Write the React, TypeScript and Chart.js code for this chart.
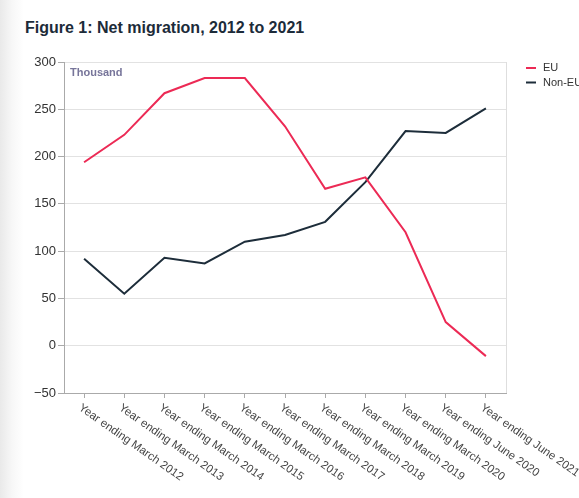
import React, { useEffect, useRef } from "react";
import { Chart, registerables } from "chart.js";

Chart.register(...registerables);

const categories = [
  "Year ending March 2012",
  "Year ending March 2013",
  "Year ending March 2014",
  "Year ending March 2015",
  "Year ending March 2016",
  "Year ending March 2017",
  "Year ending March 2018",
  "Year ending March 2019",
  "Year ending March 2020",
  "Year ending June 2020",
  "Year ending June 2021",
];
const euValues = [194, 223, 267, 283, 283, 232, 166, 178, 120, 25, -11];
const nonEuValues = [92, 55, 93, 87, 110, 117, 131, 173, 227, 225, 251];
const yMin = -50;
const yMax = 300;
const yStep = 50;
const seriesNames = ["EU", "Non-EU"];
const seriesColors = ["#ec2a55", "#1d2d3a"];
const unitLabel = "Thousand";
const titleText = "Figure 1: Net migration, 2012 to 2021";

const FONT = "'Liberation Sans', Arial, Helvetica, sans-serif";

const overlayPlugin = {
  id: "overlay",
  afterDraw(chart: any) {
    const ctx = chart.ctx;
    const area = chart.chartArea;
    const xScale = chart.scales.x;
    ctx.save();
    // right border
    ctx.strokeStyle = "#dedede";
    ctx.lineWidth = 1;
    ctx.beginPath();
    ctx.moveTo(Math.round(area.right) + 0.5, area.top);
    ctx.lineTo(Math.round(area.right) + 0.5, area.bottom);
    ctx.stroke();

    // unit label
    ctx.fillStyle = "#77759a";
    ctx.font = `bold 11px ${FONT}`;
    ctx.textAlign = "left";
    ctx.textBaseline = "middle";
    ctx.fillText(unitLabel, area.left + 6, area.top + 11);

    // rotated x labels
    ctx.fillStyle = "#444";
    ctx.font = `11.5px ${FONT}`;
    ctx.textAlign = "left";
    ctx.textBaseline = "top";
    categories.forEach((lab, i) => {
      const x = xScale.getPixelForValue(i);
      ctx.save();
      ctx.translate(x - 1, area.bottom + 9);
      ctx.rotate((35 * Math.PI) / 180);
      ctx.fillText(lab, 0, 0);
      ctx.restore();
    });

    // legend
    ctx.font = `11px ${FONT}`;
    ctx.textBaseline = "middle";
    seriesNames.forEach((name, i) => {
      const y = 68 + i * 14.5;
      ctx.strokeStyle = seriesColors[i];
      ctx.lineWidth = 2;
      ctx.beginPath();
      ctx.moveTo(526, y);
      ctx.lineTo(536, y);
      ctx.stroke();
      ctx.fillStyle = "#333";
      ctx.fillText(name, 543, y);
    });
    ctx.restore();
  },
};

export default function App() {
  const canvasRef = useRef<HTMLCanvasElement | null>(null);

  useEffect(() => {
    if (!canvasRef.current) return;
    const chart = new Chart(canvasRef.current, {
      type: "line",
      data: {
        labels: categories,
        datasets: [
          {
            label: seriesNames[0],
            data: euValues,
            borderColor: seriesColors[0],
            backgroundColor: seriesColors[0],
            borderWidth: 2,
            pointRadius: 0,
            tension: 0,
          },
          {
            label: seriesNames[1],
            data: nonEuValues,
            borderColor: seriesColors[1],
            backgroundColor: seriesColors[1],
            borderWidth: 2,
            pointRadius: 0,
            tension: 0,
          },
        ],
      },
      options: {
        responsive: false,
        animation: false,
        layout: { padding: { top: 62, right: 94, left: 0, bottom: 0 } },
        plugins: {
          legend: { display: false },
          tooltip: { enabled: false },
          title: { display: false },
        },
        scales: {
          x: {
            type: "category",
            offset: true,
            grid: {
              drawOnChartArea: false,
              drawTicks: true,
              tickLength: 5,
              tickColor: "#aaa",
              color: "#aaa",
            },
            border: { color: "#aaa", width: 1 },
            ticks: { display: false },
            afterFit(scale: any) {
              scale.height = 105;
            },
          },
          y: {
            min: yMin,
            max: yMax,
            ticks: {
              stepSize: yStep,
              color: "#333",
              font: { family: FONT, size: 13 },
              padding: 2,
              callback: (v: any) => String(v).replace("-", "\u2212"),
            },
            grid: {
              color: "#e2e2e2",
              tickColor: "#aaa",
              tickLength: 6,
            },
            border: { color: "#aaa", width: 1 },
            afterFit(scale: any) {
              scale.width = 64;
            },
          },
        },
      },
      plugins: [overlayPlugin],
    });
    return () => chart.destroy();
  }, []);

  return (
    <div
      style={{
        position: "absolute",
        left: 0,
        top: 0,
        width: 579,
        height: 498,
        overflow: "hidden",
        background:
          "linear-gradient(to right, #e9e9e9 0px, #f7f7f7 12px, #ffffff 24px)",
      }}
    >
      <div
        style={{
          position: "absolute",
          left: 25,
          top: 18,
          fontFamily: FONT,
          fontWeight: "bold",
          fontSize: 16,
          lineHeight: "20px",
          color: "#1c2b39",
          whiteSpace: "nowrap",
        }}
      >
        {titleText}
      </div>
      <canvas
        ref={canvasRef}
        width={600}
        height={498}
        style={{ position: "absolute", left: 0, top: 0, display: "block" }}
      />
    </div>
  );
}
